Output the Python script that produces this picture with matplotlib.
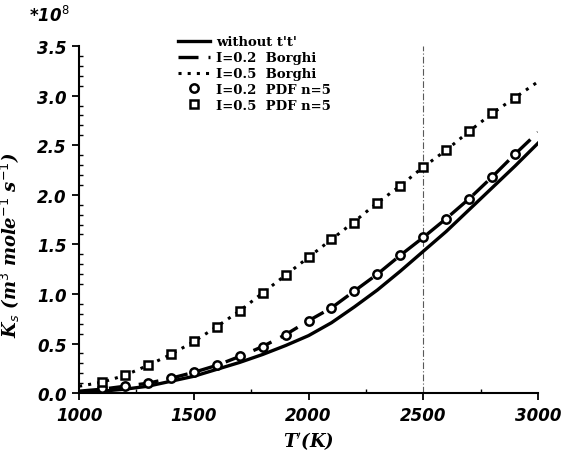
import numpy as np
import matplotlib
matplotlib.use("Agg")
import matplotlib.pyplot as plt
from matplotlib.ticker import MultipleLocator, FormatStrFormatter

# temperature grid (K)
T = [1000, 1100, 1200, 1300, 1400, 1500, 1600, 1700, 1800, 1900, 2000,
     2100, 2200, 2300, 2400, 2500, 2600, 2700, 2800, 2900, 3000]

# rate constant, units of 1e8
k_without = [0.00, 0.02, 0.04, 0.07, 0.12, 0.17, 0.24, 0.31, 0.39, 0.48, 0.58,
             0.71, 0.87, 1.04, 1.23, 1.43, 1.63, 1.85, 2.07, 2.29, 2.52]
k_borghi_02 = [0.02, 0.04, 0.07, 0.10, 0.15, 0.21, 0.28, 0.37, 0.47, 0.59, 0.73,
               0.86, 1.03, 1.20, 1.39, 1.57, 1.76, 1.96, 2.18, 2.41, 2.63]
k_borghi_05 = [0.07, 0.11, 0.18, 0.28, 0.39, 0.52, 0.67, 0.83, 1.01, 1.19, 1.37,
               1.55, 1.73, 1.92, 2.09, 2.28, 2.45, 2.64, 2.82, 2.98, 3.14]

T_pdf = [1100, 1200, 1300, 1400, 1500, 1600, 1700, 1800, 1900, 2000,
         2100, 2200, 2300, 2400, 2500, 2600, 2700, 2800, 2900]
k_pdf_02 = [0.05, 0.07, 0.10, 0.15, 0.21, 0.28, 0.37, 0.47, 0.59, 0.73,
            0.86, 1.03, 1.20, 1.39, 1.57, 1.76, 1.96, 2.18, 2.41]
k_pdf_05 = [0.11, 0.18, 0.28, 0.39, 0.53, 0.67, 0.83, 1.01, 1.19, 1.37,
            1.55, 1.72, 1.92, 2.09, 2.28, 2.45, 2.64, 2.82, 2.98]

tick_font = dict(family="DejaVu Sans", weight="bold", style="italic", size=12)

fig = plt.figure(figsize=(5.61, 4.52), dpi=100)
ax = fig.add_axes([0.141, 0.128, 0.818, 0.768])

ax.axvline(2500, color="0.35", lw=0.8, ls=(0, (6, 2, 1, 2)), zorder=0)

ax.plot(T, k_without, "-", color="k", lw=2.4, label="without t't'")
ax.plot(T, k_borghi_02, "--", color="k", lw=2.4, dashes=(6, 3), label="I=0.2  Borghi")
ax.plot(T, k_borghi_05, ":", color="k", lw=2.2, dashes=(1, 2), label="I=0.5  Borghi")
ax.plot(T_pdf, k_pdf_02, "o", mfc="white", mec="k", mew=1.8, ms=6,
        label="I=0.2  PDF n=5")
ax.plot(T_pdf, k_pdf_05, "s", mfc="white", mec="k", mew=1.8, ms=6,
        label="I=0.5  PDF n=5")

ax.set_xlim(1000, 3000)
ax.set_ylim(0, 3.5)
ax.spines["top"].set_visible(False)
ax.spines["right"].set_visible(False)
ax.spines["left"].set_linewidth(1.5)
ax.spines["bottom"].set_linewidth(1.5)

ax.xaxis.set_major_locator(MultipleLocator(500))
ax.xaxis.set_minor_locator(MultipleLocator(250))
ax.yaxis.set_major_locator(MultipleLocator(0.5))
ax.yaxis.set_minor_locator(MultipleLocator(0.1))
ax.yaxis.set_major_formatter(FormatStrFormatter("%.1f"))
ax.tick_params(which="major", direction="out", length=5, width=1.3, pad=4)
ax.tick_params(which="minor", direction="in", length=3, width=1.0)
for lab in ax.get_xticklabels() + ax.get_yticklabels():
    lab.set_fontproperties(matplotlib.font_manager.FontProperties(**tick_font))

ax.set_xlabel(r"T$^{\prime}$(K)", family="DejaVu Serif", weight="bold",
              style="italic", size=13)
ax.xaxis.set_label_coords(0.5, -0.105)
ax.set_ylabel(r"K$_s$ (m$^3$ mole$^{-1}$ s$^{-1}$)", family="DejaVu Serif",
              weight="bold", style="italic", size=13)
ax.yaxis.set_label_coords(-0.125, 0.43)
ax.text(-0.11, 1.06, r"*10$^8$", transform=ax.transAxes, ha="left", va="bottom",
        **tick_font)

leg = ax.legend(loc="upper left", bbox_to_anchor=(0.19, 1.065), frameon=False,
                handlelength=2.4, handletextpad=0.5, labelspacing=0.22,
                prop=dict(family="DejaVu Serif", weight="bold", size=9.5))

fig.savefig("out.png", dpi=100)
